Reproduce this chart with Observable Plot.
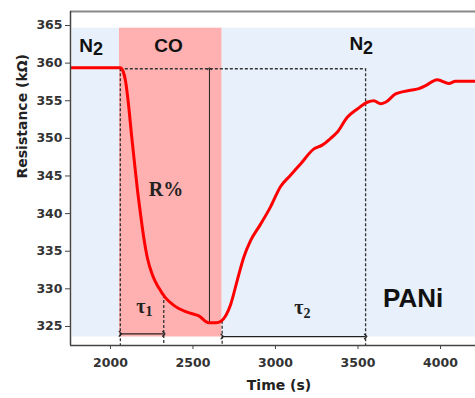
<!DOCTYPE html>
<html><head><meta charset="utf-8">
<script src="https://cdn.jsdelivr.net/npm/d3@7"></script>
<script src="https://cdn.jsdelivr.net/npm/@observablehq/plot@0.6"></script>
<style>
html,body{margin:0;padding:0;background:#fff;overflow:hidden}
</style></head><body><div id="chart"></div>
<script>
// Resistance response of PANi to CO
const time = [1700, 2060, 2075, 2091, 2110, 2128, 2146, 2164, 2182, 2200, 2225, 2255, 2291, 2334, 2384, 2465, 2536, 2596, 2640, 2670, 2700, 2728, 2768, 2808, 2849, 2910, 2970, 3031, 3091, 3152, 3233, 3283, 3334, 3374, 3435, 3496, 3556, 3596, 3637, 3667, 3728, 3819, 3869, 3910, 3980, 4051, 4091, 4300];
const resistance = [359.4, 359.4, 359.0, 357.7, 354.4, 350.4, 346.7, 343.1, 340.0, 337.1, 334.0, 331.8, 330.2, 328.8, 327.8, 326.9, 326.4, 325.5, 325.5, 325.7, 326.5, 327.9, 331.1, 334.2, 336.4, 338.6, 340.9, 343.6, 345.1, 346.6, 348.6, 349.1, 350.0, 350.8, 352.8, 353.9, 354.8, 355.0, 354.6, 354.8, 355.9, 356.4, 356.6, 357.0, 357.8, 357.3, 357.6, 357.6];

const xTicks = [2000, 2500, 3000, 3500, 4000];
const yTicks = [325, 330, 335, 340, 345, 350, 355, 360, 365];
const xDomain = [1758, 4212];
const yDomain = [322.47, 366.86];

// gas phases (shaded bands)
const phaseGas = ["N2", "CO", "N2"];
const phaseStart = [1770, 2055, 2677];
const phaseEnd = [2055, 2677, 4212];
const bandBottom = 323.6, bandTop = 364.64;

// dashed guide lines
const guideX = [2060, 2323, 2677, 3546];
const guideTop = [359.25, 329.1, 325.7, 359.25];
const baseline = 359.25;

// response / recovery annotations
const tau1 = [2060, 2323], tau1Y = 324.02;
const tau2 = [2677, 3546], tau2Y = 323.66;
const rArrowX = 2600, rArrowFrom = 325.5, rArrowTo = 359.25;

const data = time.map((t, i) => ({t, r: resistance[i]}));
const phases = phaseGas.map((g, i) => ({g, x1: phaseStart[i], x2: phaseEnd[i]}));
const guides = guideX.map((x, i) => ({x, top: guideTop[i]}));

const sans = "Liberation Sans, Arial, sans-serif";
const serif = "Liberation Serif, Times New Roman, serif";

const chart = Plot.plot({
  width: 475, height: 398,
  marginLeft: 70, marginRight: 0, marginTop: 11, marginBottom: 53,
  style: {fontFamily: "DejaVu Sans, sans-serif", fontWeight: "bold", background: "#fff", overflow: "hidden"},
  x: {domain: xDomain},
  y: {domain: yDomain},
  marks: [
    Plot.rect(phases, {x1: "x1", x2: "x2", y1: bandBottom, y2: bandTop,
      fill: d => d.g === "CO" ? "#ffb0b0" : "#e7f0fb"}),
    Plot.ruleX(guides, {x: "x", y1: "top", y2: yDomain[0], stroke: "#333", strokeWidth: 1.3, strokeDasharray: "3,2"}),
    Plot.ruleY([baseline], {x1: guideX[0], x2: guideX[3], stroke: "#333", strokeWidth: 1.3, strokeDasharray: "3,2"}),
    Plot.link([0], {x1: rArrowX, x2: rArrowX, y1: rArrowFrom, y2: rArrowTo, stroke: "#222", strokeWidth: 1, markerEnd: "arrow"}),
    Plot.link([0], {x1: tau1[0], x2: tau1[1], y1: tau1Y, y2: tau1Y, stroke: "#222", strokeWidth: 1.2, markerStart: "arrow", markerEnd: "arrow"}),
    Plot.link([0], {x1: tau2[0], x2: tau2[1], y1: tau2Y, y2: tau2Y, stroke: "#222", strokeWidth: 1.2, markerStart: "arrow", markerEnd: "arrow"}),
    Plot.line(data, {x: "t", y: "r", stroke: "#ff0000", strokeWidth: 3, curve: "monotone-x", clip: true}),
    // in-plot labels
    Plot.text(["N"], {x: 1894, y: 362.34, textAnchor: "end", fontFamily: sans, fontSize: 19, fill: "#111"}),
    Plot.text(["2"], {x: 1894, y: 362.34, dy: 4, textAnchor: "start", fontFamily: sans, fontSize: 18, fill: "#111"}),
    Plot.text(["CO"], {x: 2352, y: 362.29, fontFamily: sans, fontSize: 19, fill: "#111"}),
    Plot.text(["N"], {x: 3531, y: 362.6, textAnchor: "end", fontFamily: sans, fontSize: 19, fill: "#111"}),
    Plot.text(["2"], {x: 3531, y: 362.6, dy: 5, textAnchor: "start", fontFamily: sans, fontSize: 18, fill: "#111"}),
    Plot.text(["R%"], {x: 2337, y: 343.14, fontFamily: serif, fontSize: 20, fill: "#222"}),
    Plot.text(["τ"], {x: 2212, y: 327.65, textAnchor: "end", fontFamily: serif, fontSize: 20, fill: "#222"}),
    Plot.text(["1"], {x: 2212, y: 327.65, dy: 4.5, textAnchor: "start", fontFamily: serif, fontSize: 14, fill: "#222"}),
    Plot.text(["τ"], {x: 3170, y: 327.5, textAnchor: "end", fontFamily: serif, fontSize: 20, fill: "#222"}),
    Plot.text(["2"], {x: 3170, y: 327.5, dy: 6, textAnchor: "start", fontFamily: serif, fontSize: 14, fill: "#222"}),
    Plot.text(["PANi"], {x: 3834, y: 328.71, fontFamily: sans, fontSize: 26, fill: "#111"}),
    // frame
    Plot.ruleY([yDomain[1]], {stroke: "#888", strokeWidth: 2}),
    Plot.ruleX([xDomain[0]], {stroke: "#444", strokeWidth: 1.5}),
    Plot.ruleY([yDomain[0]], {stroke: "#444", strokeWidth: 1.5}),
    // axes
    Plot.axisX({ticks: xTicks, tickFormat: d3.format("d"), tickSize: 4, tickPadding: 9, label: null, fontSize: 12.5, fill: "#333", stroke: "#444"}),
    Plot.axisY({ticks: yTicks, tickFormat: d3.format("d"), tickSize: 5, tickPadding: 3, label: null, fontSize: 12.5, fill: "#333", stroke: "#444"}),
    Plot.text(["Time (s)"], {frameAnchor: "bottom", dx: 6, dy: 44, fontSize: 14, fill: "#222"}),
    Plot.text(["Resistance (kΩ)"], {frameAnchor: "left", rotate: -90, dx: -48, fontSize: 14, fill: "#222"})
  ]
});
document.getElementById("chart").appendChild(chart);
</script>
</body></html>
